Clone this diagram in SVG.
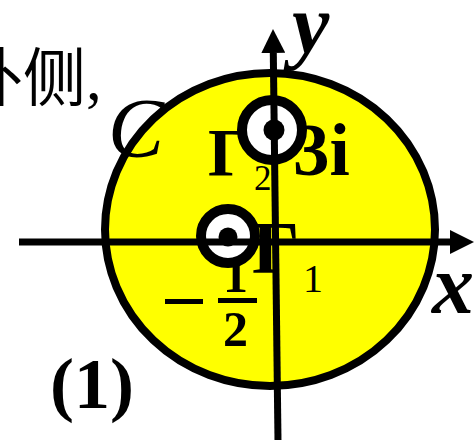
<svg xmlns="http://www.w3.org/2000/svg" width="476" height="440" viewBox="0 0 476 440">
<style>
.t{font-family:"Liberation Serif","Noto Sans CJK SC",serif;fill:#000}
.b{font-weight:bold}
.i{font-style:italic}
.ring{fill:#fff;stroke:#000;stroke-width:10}
.ax{stroke:#000;stroke-width:7;fill:none}
</style>
<defs>
<marker id="ah" markerWidth="24" markerHeight="24" refX="0" refY="12" orient="auto" markerUnits="userSpaceOnUse">
<path d="M0,0 L24,12 L0,24 Z" fill="#000"/>
</marker>
</defs>
<rect width="476" height="440" fill="#fff"/>
<g id="region-C">
<ellipse cx="270" cy="229.5" rx="165" ry="156.5" fill="#ffff00" stroke="#000" stroke-width="8"/>
</g>
<g id="labels">
<text class="t" x="-40" y="100" font-size="63">外侧,</text>
<text class="t i" x="108" y="157" font-size="84">C</text>
<text class="t b i" x="292" y="53" font-size="84">y</text>
<text class="t b i" x="432" y="313" font-size="84">x</text>
<text class="t b" x="208" y="175" font-size="68">Γ</text>
<text class="t" x="254" y="190" font-size="35">2</text>
<text class="t b" x="293" y="175" font-size="73">3i</text>
<text class="t b" x="252" y="273" font-size="75">Γ</text>
<text class="t" x="303" y="292" font-size="40">1</text>
<text class="t b" x="223" y="292" font-size="50">1</text>
<text class="t b" x="223" y="346" font-size="50">2</text>
<text class="t b" x="50" y="408" font-size="72">(1)</text>
<rect x="165" y="299" width="38" height="5" fill="#000"/>
<rect x="218" y="298" width="39" height="5" fill="#000"/>
</g>
<g id="contour-gamma2">
<circle class="ring" cx="272" cy="130" r="30"/>
</g>
<g id="contour-gamma1">
<circle class="ring" cx="228" cy="236" r="27"/>
</g>
<g id="connectors">
<line class="ax" x1="19" y1="242" x2="450" y2="242" marker-end="url(#ah)"/>
<line class="ax" x1="278" y1="440" x2="273.3" y2="53" marker-end="url(#ah)"/>
</g>
<g id="points">
<circle cx="274" cy="130" r="10.5" fill="#000"/>
<circle cx="228" cy="237" r="9.5" fill="#000"/>
</g>
</svg>
